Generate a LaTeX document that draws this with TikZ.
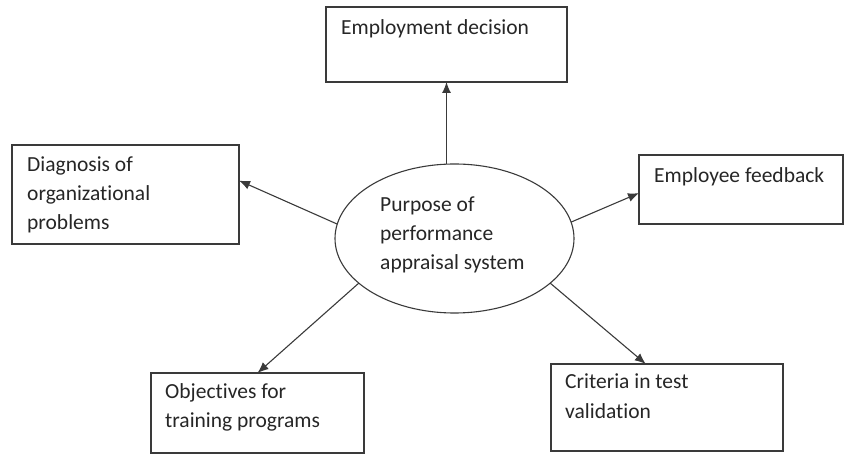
\documentclass[tikz,border=0pt]{standalone}
\usepackage{fontspec}
\setmainfont{Carlito}[Ligatures={NoCommon}]
\usepackage{tikz}
\usetikzlibrary{arrows.meta,shapes.geometric}
\definecolor{linegray}{HTML}{3A3A3A}
\definecolor{textgray}{HTML}{262626}

\begin{document}
\begin{tikzpicture}[x=1pt,y=-1pt,
  box/.style={draw=linegray,line width=1.1pt,anchor=north west,inner sep=0pt,outer sep=0pt},
  lbl/.style={anchor=base west,inner sep=0pt,align=left,text=textgray,font=\fontsize{21.5}{29}\selectfont},
  arr/.style={draw=linegray,line width=1.1pt,-{Latex[length=11pt,width=9pt]}}]
\useasboundingbox (0,0) rectangle (844,454);
% centre
\node [ellipse,draw=linegray,line width=1.1pt,inner sep=0pt,outer sep=0pt,
  minimum width=239,minimum height=149] (purpose) at (454.5,238.5) {};
\node [lbl] (purposetxt) at (380,270) {Purpose of\\performance\\appraisal system};
% boxes
\node [box,minimum width=241,minimum height=75] (emp) at (326,7) {};
\node [lbl] (emptxt) at (341,35) {Employment decision};
\node [box,minimum width=227,minimum height=99] (diag) at (12,145) {};
\node [lbl] (diagtxt) at (27,230) {Diagnosis of\\organizational\\problems};
\node [box,minimum width=204,minimum height=69] (feed) at (639,155) {};
\node [lbl] (feedtxt) at (654,183) {Employee feedback};
\node [box,minimum width=213,minimum height=80] (obj) at (151,373) {};
\node [lbl] (objtxt) at (165,428) {Objectives for\\training programs};
\node [box,minimum width=232,minimum height=87] (crit) at (551,364) {};
\node [lbl] (crittxt) at (565,418) {Criteria in test\\validation};
% arrows
\draw [arr] (purpose.north -| emp.south) -- (emp.south);
\draw [arr] (purpose.173) -- (diag.7);
\draw [arr] (purpose.8) -- (feed.182);
\draw [arr] (purpose.205) -- (obj.north);
\draw [arr] (purpose.335) -- (crit.116);
\end{tikzpicture}
\end{document}
